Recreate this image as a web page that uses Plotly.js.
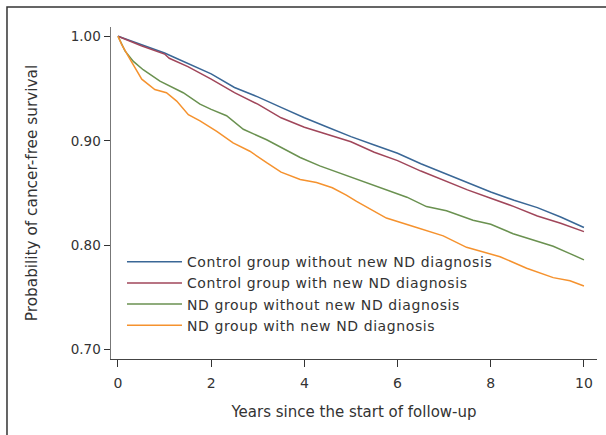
<!DOCTYPE html>
<html>
<head>
<meta charset="utf-8">
<script src="https://cdn.plot.ly/plotly-3.0.1.min.js"></script>
<style>
html,body{margin:0;padding:0;background:#fff;}
#chart{width:606px;height:435px;}
.legendtext{letter-spacing:0.6px;}
</style>
</head>
<body>
<div id="chart"></div>
<script>
var seriesNames = [
  "Control group without new ND diagnosis",
  "Control group with new ND diagnosis",
  "ND group without new ND diagnosis",
  "ND group with new ND diagnosis"
];
var seriesColors = ["#3a6796", "#a0465a", "#6a9150", "#f5922e"];

var ctrlNoNewYears = [0,0.5,1.0,1.25,1.5,2,2.5,3,3.5,4,4.5,5,5.5,6,6.5,7,7.5,8,8.5,9,9.5,10];
var ctrlNoNewSurv  = [1.000,0.992,0.984,0.979,0.974,0.964,0.951,0.942,0.932,0.922,0.913,0.904,0.896,0.888,0.878,0.869,0.860,0.851,0.843,0.836,0.827,0.817];

var ctrlNewYears = [0,0.5,1.0,1.1,1.5,2,2.5,3,3.5,4,4.5,5,5.5,6,6.5,7,7.5,8,8.5,9,9.5,10];
var ctrlNewSurv  = [1.000,0.991,0.983,0.979,0.971,0.959,0.946,0.935,0.922,0.913,0.906,0.899,0.889,0.881,0.871,0.862,0.853,0.845,0.837,0.828,0.821,0.813];

var ndNoNewYears = [0,0.15,0.33,0.54,0.9,1.4,1.76,2.0,2.33,2.69,3.19,3.6,3.91,4.33,4.83,5.25,5.76,6.2,6.62,7.05,7.62,8.0,8.48,8.9,9.34,9.7,10];
var ndNoNewSurv  = [1.000,0.986,0.976,0.968,0.957,0.946,0.935,0.930,0.924,0.911,0.901,0.891,0.884,0.876,0.868,0.861,0.853,0.846,0.837,0.833,0.824,0.820,0.811,0.805,0.799,0.792,0.786];

var ndNewYears = [0,0.08,0.26,0.51,0.79,1.04,1.26,1.51,1.76,2.12,2.47,2.83,3.19,3.5,3.91,4.26,4.6,4.9,5.12,5.76,6.34,6.98,7.48,8.2,8.77,9.34,9.7,10];
var ndNewSurv  = [1.000,0.992,0.978,0.959,0.949,0.946,0.938,0.925,0.919,0.909,0.898,0.890,0.879,0.870,0.863,0.860,0.855,0.848,0.842,0.826,0.818,0.809,0.798,0.789,0.778,0.769,0.766,0.761];

var xTickVals = [0,2,4,6,8,10];
var xTickText = ["0","2","4","6","8","10"];
var yTickVals = [0.70,0.80,0.90,1.00];
var yTickText = ["0.70","0.80","0.90","1.00"];

var xs = [ctrlNoNewYears, ctrlNewYears, ndNoNewYears, ndNewYears];
var ys = [ctrlNoNewSurv, ctrlNewSurv, ndNoNewSurv, ndNewSurv];

var traces = [];
for (var i = 0; i < 4; i++) {
  traces.push({
    x: xs[i], y: ys[i], type: "scatter", mode: "lines",
    name: seriesNames[i],
    line: {color: seriesColors[i], width: 1.5}
  });
}

var FONT = "DejaVu Sans, sans-serif";
var layout = {
  width: 606, height: 435,
  margin: {l: 111, r: 9, t: 27, b: 76},
  paper_bgcolor: "#fff", plot_bgcolor: "#fff",
  font: {family: FONT, color: "#333", size: 13},
  showlegend: true,
  legend: {
    x: 0.0226, y: 0.34, xanchor: "left", yanchor: "top",
    itemwidth: 55,
    bgcolor: "rgba(0,0,0,0)", font: {family: FONT, size: 14, color: "#333"},
    tracegroupgap: 0
  },
  xaxis: {
    range: [-0.15, 10.28], tickvals: xTickVals, ticktext: xTickText,
    showgrid: false, zeroline: false, showline: true, linecolor: "#444", linewidth: 1,
    ticks: "outside", ticklen: 7, tickcolor: "#333", tickwidth: 1, ticklabelstandoff: 4,
    tickfont: {family: FONT, size: 14, color: "#333"},
    title: {text: "Years since the start of follow-up", font: {family: FONT, size: 15, color: "#333"}, standoff: 16}
  },
  yaxis: {
    range: [0.6911, 1.0089], tickvals: yTickVals, ticktext: yTickText,
    showgrid: false, zeroline: false, showline: true, linecolor: "#777", linewidth: 1.5,
    ticks: "outside", ticklen: 6, tickcolor: "#333", tickwidth: 1,
    tickfont: {family: FONT, size: 13.5, color: "#333"},
    title: {text: "Probability of cancer-free survival", font: {family: FONT, size: 15.3, color: "#333"}, standoff: 29}
  },
  shapes: [{
    type: "rect", xref: "paper", yref: "paper",
    x0: -0.214, x1: 1.05, y0: -0.3, y1: 1.06,
    line: {color: "#333", width: 1.5}, fillcolor: "rgba(0,0,0,0)", layer: "above"
  }]
};

Plotly.newPlot("chart", traces, layout, {displayModeBar: false, staticPlot: true});
</script>
</body>
</html>
